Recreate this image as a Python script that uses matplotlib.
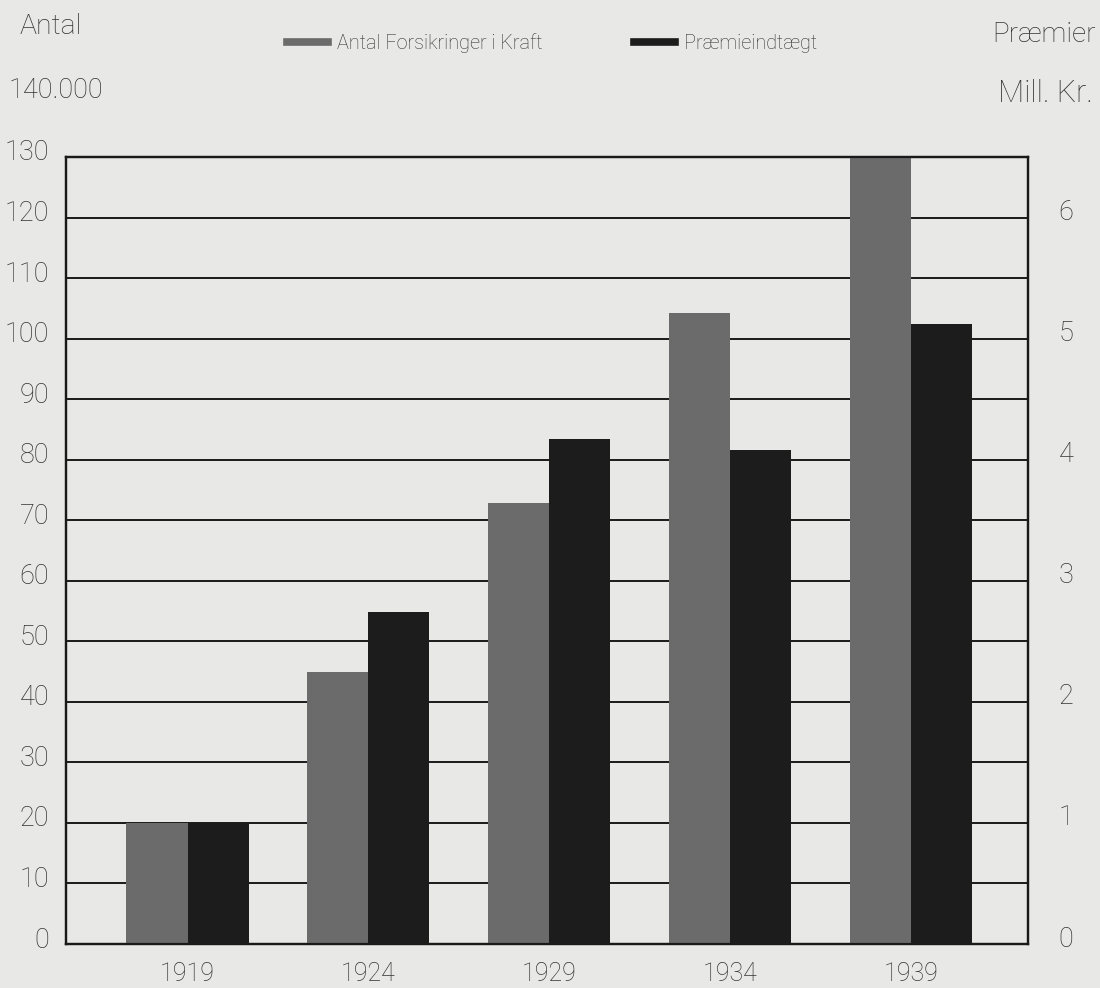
import matplotlib
matplotlib.use("Agg")
import matplotlib.pyplot as plt
from matplotlib.lines import Line2D
from matplotlib.transforms import ScaledTranslation
import numpy as np

years = ["1919", "1924", "1929", "1934", "1939"]
antal = [20.0, 45.0, 72.8, 104.3, 130.0]          # thousands of policies
praemier = [1.0, 2.74, 4.17, 4.08, 5.12]            # Mill. Kr.
left_ticks = list(range(0, 131, 10))
right_ticks = [0, 1, 2, 3, 4, 5, 6]

BG = "#e8e8e6"
GRAY = "#6b6b6b"
BLACK = "#1c1c1c"
TXT = "#333333"
FONT = ["Roboto", "DejaVu Sans"]

plt.rcParams["font.family"] = FONT
plt.rcParams["font.weight"] = "light"

fig = plt.figure(figsize=(11, 9.88), dpi=100, facecolor=BG)
ax = fig.add_axes([66/1100, 44/988, 962/1100, 787/988])
ax.set_facecolor(BG)
ax2 = ax.twinx()

x = np.arange(len(years))
w = 0.3375
ax.bar(x - w/2, antal, width=w, color=GRAY, zorder=3)
ax2.bar(x + w/2, praemier, width=w, color=BLACK, zorder=3)

ax.set_ylim(0, 130)
ax2.set_ylim(0, 6.5)
ax.set_xlim(-0.672, 4.648)

ax.set_yticks(left_ticks)
ax.set_yticklabels([str(t) for t in left_ticks])
ax2.set_yticks(right_ticks)
ax2.set_yticklabels([str(t) for t in right_ticks])
ax.set_xticks(x)
ax.set_xticklabels(years)

ax.set_axisbelow(True)
ax.yaxis.grid(True, color="#1a1a1a", lw=1.4, zorder=0)
ax.xaxis.grid(False)
ax.tick_params(axis="both", length=0, labelsize=19.5, colors=TXT)
ax.tick_params(axis="y", pad=12)
ax.tick_params(axis="x", labelsize=18, pad=13)
ax2.tick_params(axis="y", length=0, labelsize=19.5, colors=TXT, pad=22)
ax2.set_zorder(ax.get_zorder() + 1)
ax2.patch.set_visible(False)

up_left = ScaledTranslation(0, 7/100, fig.dpi_scale_trans)
up_right = ScaledTranslation(0, 8/100, fig.dpi_scale_trans)
for lbl in ax.get_yticklabels():
    lbl.set_transform(lbl.get_transform() + up_left)
for lbl in ax2.get_yticklabels():
    lbl.set_transform(lbl.get_transform() + up_right)

for a in (ax, ax2):
    for s in a.spines.values():
        s.set_color("#1a1a1a")
        s.set_linewidth(1.6)

fig.text(20/1100, 1 - 27/988, "Antal", fontsize=20.5, color=TXT, va="center", ha="left")
fig.text(9/1100, 1 - 90/988, "140.000", fontsize=19.5, color=TXT, va="center", ha="left")
fig.text(1096/1100, 1 - 35/988, "Præmier", fontsize=20, color=TXT, va="center", ha="right")
fig.text(1093/1100, 1 - 94/988, "Mill. Kr.", fontsize=22, color=TXT, va="center", ha="right")

handles = [Line2D([0], [0], color=GRAY, lw=5.5), Line2D([0], [0], color=BLACK, lw=5.5)]
fig.legend(handles, ["Antal Forsikringer i Kraft", "Præmieindtægt"],
           loc="center", bbox_to_anchor=(552/1100, 1 - 43/988), ncol=2,
           frameon=False, fontsize=14.3, handlelength=2.05, handletextpad=0.45,
           columnspacing=4.6, labelcolor=TXT)

fig.savefig("out.png", dpi=100, facecolor=BG)
